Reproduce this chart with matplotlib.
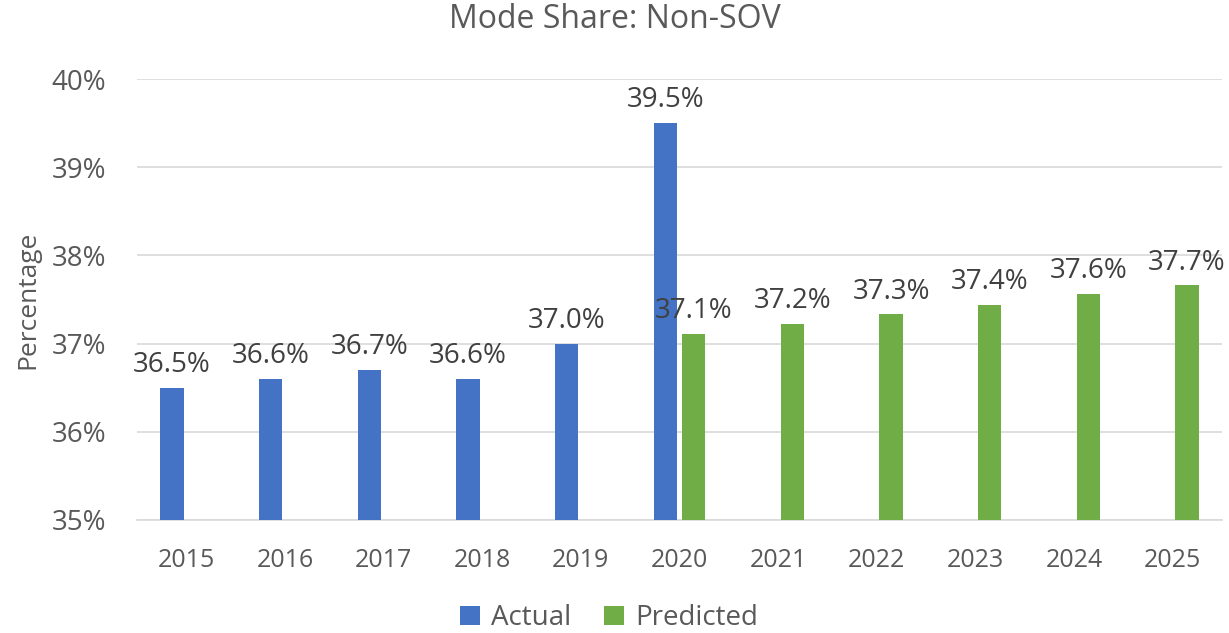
import numpy as np
import matplotlib
matplotlib.use("Agg")
import matplotlib.pyplot as plt
from matplotlib.ticker import FuncFormatter

years = ["2015", "2016", "2017", "2018", "2019", "2020", "2021", "2022", "2023", "2024", "2025"]
actual = [36.5, 36.6, 36.7, 36.6, 37.0, 39.5, None, None, None, None, None]
predicted = [None, None, None, None, None, 37.11, 37.22, 37.33, 37.44, 37.56, 37.66]

plt.rcParams['font.family'] = ['Open Sans', 'DejaVu Sans']

fig = plt.figure(figsize=(12.29, 6.33), dpi=100)
ax = fig.add_axes([137 / 1229, 1 - 520 / 633, (1222 - 137) / 1229, (520 - 79) / 633])

x = np.arange(len(years))
w = 0.235
off = 0.145

def draw(vals, shift, color, name):
    pos = [xi + shift for xi, v in zip(x, vals) if v is not None]
    vs = [v for v in vals if v is not None]
    ax.bar(pos, [v - 35 for v in vs], bottom=35, width=w, color=color, label=name, zorder=3)
    for p, v in zip(pos, vs):
        ax.text(p, v + 0.1, f"{v:.1f}%", ha="center", va="bottom", fontsize=20, color="#404040")

draw(actual, -off, "#4472C4", "Actual")
draw(predicted, off, "#70AD47", "Predicted")

ax.set_xlim(-0.5, len(years) - 0.5)
ax.set_ylim(35, 40)
ax.set_yticks(np.arange(35, 40.5, 1))
ax.yaxis.set_major_formatter(FuncFormatter(lambda v, p: f"{v:.0f}%"))
ax.set_xticks(x)
ax.set_xticklabels(years)
ax.tick_params(axis="both", length=0, labelcolor="#595959")
ax.tick_params(axis="y", pad=22, labelsize=20)
ax.tick_params(axis="x", pad=20, labelsize=18)
ax.grid(axis="y", color="#d9d9d9", linewidth=1.2, zorder=0)
for s in ["top", "right", "left"]:
    ax.spines[s].set_visible(False)
ax.spines["bottom"].set_color("#d9d9d9")
ax.spines["bottom"].set_linewidth(1.2)

ax.set_ylabel("Percentage", fontsize=19, color="#595959", labelpad=8)
fig.text(0.5, 1 - 20 / 633, "Mode Share: Non-SOV", ha="center", va="center", fontsize=23, color="#595959")

fig.legend(loc="center", bbox_to_anchor=(609 / 1229, 1 - 618 / 633), ncol=2, frameon=False,
           fontsize=20, handlelength=0.7, handleheight=0.7, columnspacing=1.2,
           handletextpad=0.4, labelcolor="#595959")

fig.savefig("out.png", dpi=100)
